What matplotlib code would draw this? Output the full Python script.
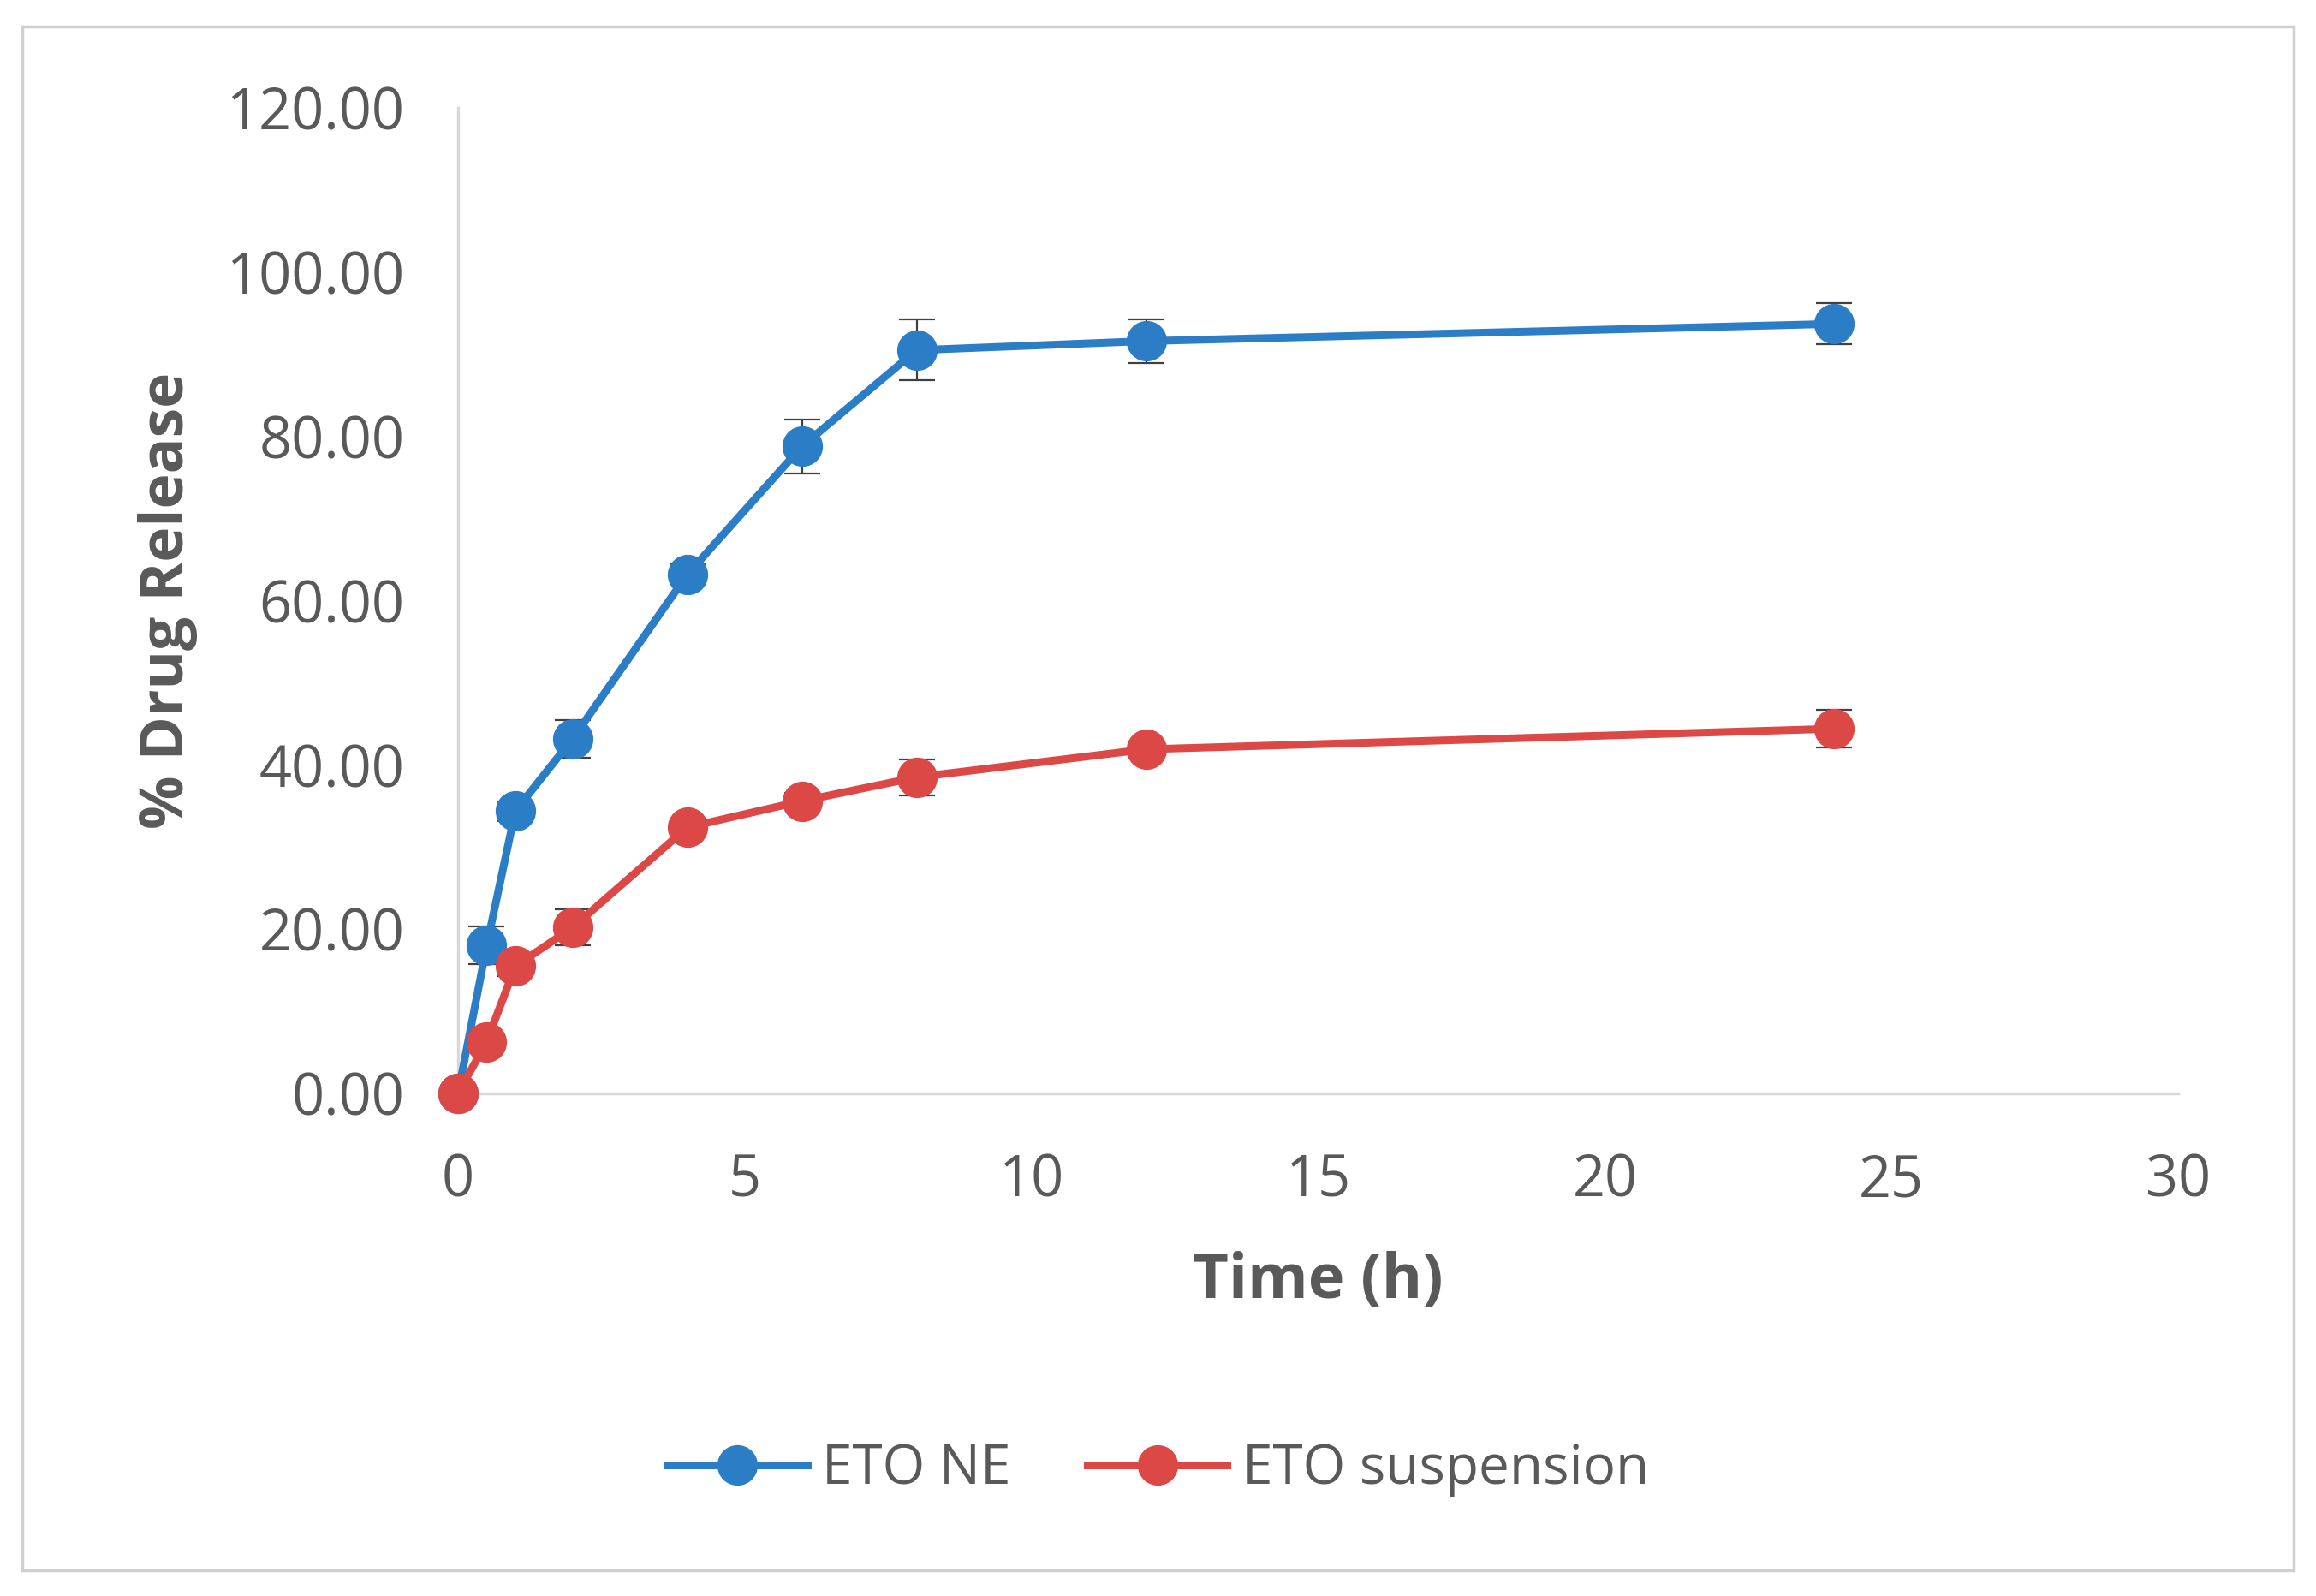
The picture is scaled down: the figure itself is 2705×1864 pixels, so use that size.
import matplotlib
matplotlib.use("Agg")
import matplotlib.pyplot as plt
from matplotlib.patches import Rectangle

time_h = [0, 0.5, 1, 2, 4, 6, 8, 12, 24]
eto_ne = [0.0, 18.0, 34.4, 43.2, 63.2, 78.8, 90.5, 91.6, 93.7]
eto_ne_err = [0.0, 2.3, 1.2, 2.3, 1.2, 3.3, 3.7, 2.7, 2.5]
eto_susp = [0.0, 6.3, 15.5, 20.2, 32.4, 35.6, 38.5, 41.9, 44.4]
eto_susp_err = [0.0, 1.0, 1.2, 2.2, 1.0, 1.0, 2.2, 1.0, 2.3]
series_names = ["ETO NE", "ETO suspension"]
x_ticks = [0, 5, 10, 15, 20, 25, 30]
y_ticks = [0, 20, 40, 60, 80, 100, 120]

plt.rcParams['font.family'] = ['Open Sans', 'DejaVu Sans']

W, H = 2705, 1864
fig = plt.figure(figsize=(W / 100, H / 100), dpi=100)
fig.patches.append(Rectangle((26 / W, 1 - 1834 / H), (2679 - 26) / W, (1834 - 31) / H,
                             transform=fig.transFigure, fill=False, edgecolor='#d0d0d0', lw=2.5))

ax = fig.add_axes([535 / W, 1 - 1277 / H, (2544 - 535) / W, (1277 - 126) / H])

blue = '#2b7dc6'
red = '#dc4845'
txt = '#595959'

for y, e, c, name in [(eto_ne, eto_ne_err, blue, series_names[0]),
                      (eto_susp, eto_susp_err, red, series_names[1])]:
    ax.errorbar(time_h, y, yerr=e, fmt='none', ecolor='#404040', elinewidth=1.6,
                capsize=15, capthick=1.6, zorder=2)
    ax.plot(time_h, y, '-o', color=c, lw=6.5, ms=33, label=name, zorder=3, clip_on=False)

ax.set_xlim(0, 30)
ax.set_ylim(0, 120)
ax.set_xticks(x_ticks)
ax.set_xticklabels([str(v) for v in x_ticks])
ax.set_yticks(y_ticks)
ax.set_yticklabels([f"{v:.2f}" for v in y_ticks])
ax.tick_params(length=0, labelsize=48, colors=txt)
ax.tick_params(axis='y', pad=45)
ax.tick_params(axis='x', pad=50)

for s in ['top', 'right']:
    ax.spines[s].set_visible(False)
for s in ['left', 'bottom']:
    ax.spines[s].set_color('#d9d9d9')
    ax.spines[s].set_linewidth(2.5)

ax.set_xlabel("Time (h)", fontsize=52, fontweight='bold', color=txt, labelpad=34)
ax.set_ylabel("% Drug Release", fontsize=50, fontweight='bold', color=txt, labelpad=24)

leg = fig.legend(loc='center', bbox_to_anchor=(0.5, 1 - 1716 / H), ncol=2, frameon=False,
                 fontsize=46, handlelength=2.56, columnspacing=1.4, handletextpad=0.27,
                 labelcolor=txt)

fig.savefig("out.png", dpi=100)
